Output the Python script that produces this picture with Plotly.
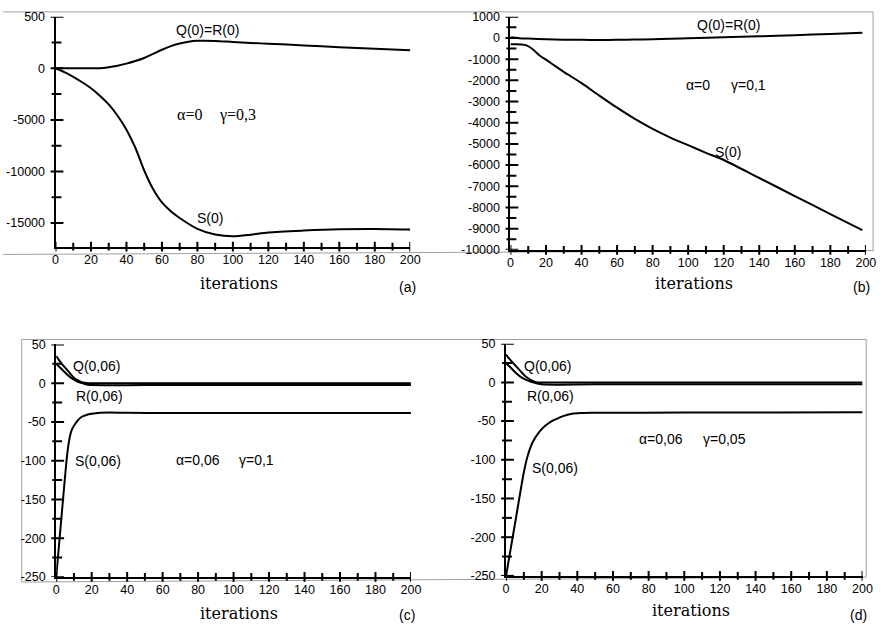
import numpy as np
import plotly.graph_objects as go

W, H = 888, 636

# ---------------- data ----------------
# panel (a)  alpha=0, gamma=0.3
a_it_Q = [0, 5, 10, 15, 20, 25, 30, 35, 40, 45, 50, 55, 60, 65, 70, 75, 80, 90, 100, 110, 120, 140, 160, 180, 200]
a_Q = [0, -3, -5, -6, -4, 0, 10, 25, 45, 70, 100, 140, 180, 215, 240, 258, 266, 265, 255, 246, 238, 222, 205, 190, 175]
a_it_S = [0, 5, 10, 15, 20, 25, 30, 35, 40, 45, 50, 55, 60, 65, 70, 80, 90, 100, 110, 120, 140, 160, 180, 200]
a_S = [0, -380, -830, -1350, -1930, -2650, -3500, -4600, -5950, -7700, -9900, -11700, -13000, -13850, -14500, -15550, -16100, -16270, -16120, -15900, -15720, -15600, -15570, -15620]

# panel (b)  alpha=0, gamma=0.1
b_it_Q = [0, 5, 10, 20, 30, 40, 50, 60, 70, 80, 90, 100, 120, 140, 160, 180, 198]
b_Q = [30, -10, -30, -60, -80, -90, -95, -90, -75, -60, -35, -10, 30, 80, 130, 190, 250]
b_it_S = [0, 3, 6, 9, 12, 15, 17, 20, 25, 30, 40, 50, 60, 70, 80, 90, 100, 110, 120, 140, 160, 180, 198]
b_S = [-300, -300, -310, -350, -500, -720, -860, -1020, -1320, -1600, -2130, -2720, -3290, -3820, -4290, -4700, -5060, -5420, -5760, -6610, -7460, -8310, -9070]

# panel (c)  alpha=0.06, gamma=0.1
c_it_Q = [0, 2, 4, 6, 8, 10, 12, 14, 16, 18, 20, 50, 100, 150, 200]
c_Q = [35, 28.5, 22.5, 17.5, 12, 7, 3.8, 1.5, 0.4, 0, 0, 0, 0, 0, 0]
c_it_R = [0, 2, 4, 6, 8, 10, 12, 14, 16, 18, 20, 50, 100, 150, 200]
c_R = [25, 20.5, 16, 11.5, 7.5, 4.5, 2, 0.5, -1, -2, -2.5, -2.5, -2.5, -2.5, -2.5]
c_it_S = [0, 3, 6, 7, 8, 9, 10, 12, 14, 17, 20, 25, 30, 40, 60, 100, 150, 200]
c_S = [-250, -172, -96, -78, -66, -59, -55, -48.5, -44, -41, -39.5, -38.3, -38, -38.3, -38.5, -38.5, -38.5, -38.5]

# panel (d)  alpha=0.06, gamma=0.05
d_it_Q = [0, 2, 4, 6, 8, 10, 12, 14, 16, 18, 20, 50, 100, 150, 200]
d_Q = [36, 30, 25, 20, 15, 10, 6, 3, 1, 0, 0, 0, 0, 0, 0]
d_it_R = [0, 2, 5, 8, 11, 14, 17, 20, 50, 100, 150, 200]
d_R = [25, 20.5, 13.5, 7.5, 3.5, 0.8, -1, -2.5, -2.5, -2.5, -2.5, -2.5]
d_it_S = [0, 5, 10, 12, 15, 19, 22, 25, 28, 32, 37, 42, 50, 100, 150, 200]
d_S = [-250, -183, -116, -96, -77, -63, -56, -51, -47.5, -43.5, -40.5, -39.5, -39.2, -39, -38.8, -38.5]

x_major = list(range(0, 201, 20))
x_minor = list(range(10, 200, 20))

a_y_major = [500, 0, -5000, -10000, -15000]
a_y_minor = [250, -2500, -7500, -12500]
b_y_major = [1000] + list(range(0, -10001, -1000))
b_y_minor = list(range(500, -10000, -1000))
cd_y_major = [50, 0, -50, -100, -150, -200, -250]
cd_y_minor = [25, -25, -75, -125, -175, -225]


def tr_a(v):
    """panel (a) has a stretched positive half (x10)"""
    v = np.asarray(v, dtype=float)
    return np.where(v > 0, v * 10.0, v)


def fx(px):
    return px / W


def fy(py):
    return 1 - py / H


sans = "Liberation Sans"
serif = "Liberation Serif"

panels = [
    dict(xa="x", ya="y", xl=53.3, xr=413.3, yt=9.9, yb=245.0, yr=[-17275, 5000],
         ymaj=list(tr_a(a_y_major)), ymajt=[str(v) for v in a_y_major], ymin=list(tr_a(a_y_minor))),
    dict(xa="x2", ya="y2", xl=515.0, xr=875.7, yt=10.0, yb=248.3, yr=[-10000, 1000],
         ymaj=b_y_major, ymajt=[str(v) for v in b_y_major], ymin=b_y_minor),
    dict(xa="x3", ya="y3", xl=54.0, xr=414.0, yt=345.0, yb=582.7, yr=[-250, 50],
         ymaj=cd_y_major, ymajt=[str(v) for v in cd_y_major], ymin=cd_y_minor),
    dict(xa="x4", ya="y4", xl=510.5, xr=872.3, yt=344.3, yb=581.7, yr=[-250, 50],
         ymaj=cd_y_major, ymajt=[str(v) for v in cd_y_major], ymin=cd_y_minor),
]

fig = go.Figure()

series = [
    (0, a_it_Q, tr_a(a_Q)), (0, a_it_S, a_S),
    (1, b_it_Q, b_Q), (1, b_it_S, b_S),
    (2, c_it_Q, c_Q), (2, c_it_R, c_R), (2, c_it_S, c_S),
    (3, d_it_Q, d_Q), (3, d_it_R, d_R), (3, d_it_S, d_S),
]
for p, xs, ys in series:
    P = panels[p]
    fig.add_trace(go.Scatter(x=xs, y=list(ys), mode="lines",
                             line=dict(color="black", width=2, shape="spline", smoothing=0.8),
                             xaxis=P["xa"], yaxis=P["ya"], showlegend=False, hoverinfo="skip"))

layout = dict(width=W, height=H, margin=dict(l=0, r=0, t=0, b=0),
              paper_bgcolor="white", plot_bgcolor="white", showlegend=False)

shapes = []
tick_line = dict(color="black", width=2)
for i, P in enumerate(panels):
    sx = "" if i == 0 else str(i + 1)
    layout["xaxis" + sx] = dict(domain=[fx(P["xl"]), fx(P["xr"])], range=[0, 200], anchor=P["ya"],
                                showline=True, linecolor="black", linewidth=2, showgrid=False, zeroline=False,
                                ticks="", tickvals=x_major, ticktext=[str(v) for v in x_major],
                                tickfont=dict(family=sans, size=12.5, color="black"))
    layout["yaxis" + sx] = dict(domain=[fy(P["yb"]), fy(P["yt"])], range=P["yr"], anchor=P["xa"],
                                showline=True, linecolor="black", linewidth=2, showgrid=False, zeroline=False,
                                ticks="outside", ticklen=6, tickcolor="rgba(0,0,0,0)",
                                tickvals=P["ymaj"], ticktext=P["ymajt"],
                                tickfont=dict(family=sans, size=12.5, color="black"))
    # crossing tick marks (x in data, y in paper) and (x in paper, y in data)
    for vals, up, dn in [(x_major, 5, 5), (x_minor, 4, 4)]:
        for v in vals:
            shapes.append(dict(type="line", xref=P["xa"], yref="paper", x0=v, x1=v,
                               y0=fy(P["yb"] + dn), y1=fy(P["yb"] - up), line=tick_line))
    for vals, lft, rgt in [(P["ymaj"], 5, 8), (P["ymin"], 4, 6)]:
        for v in vals:
            shapes.append(dict(type="line", xref="paper", yref=P["ya"], y0=v, y1=v,
                               x0=fx(P["xl"] - lft), x1=fx(P["xl"] + rgt), line=tick_line))

# scanned frame lines
gray = dict(color="#a0a0a0", width=1)
for (x0, y0, x1, y1) in [(0, 5, 883, 5), (883, 5, 883, 250), (0, 253, 883, 249),
                         (19, 340, 876, 340), (19, 340, 19, 588), (19, 588, 876, 583), (876, 340, 876, 583)]:
    shapes.append(dict(type="line", xref="paper", yref="paper", x0=fx(x0), y0=fy(y0), x1=fx(x1), y1=fy(y1),
                       line=gray, layer="below"))
layout["shapes"] = shapes

ann = []


def add(text, px, py, family=sans, size=14):
    ann.append(dict(text=text, x=fx(px), y=fy(py), xref="paper", yref="paper", showarrow=False,
                    xanchor="center", yanchor="middle", font=dict(family=family, size=size, color="black")))


# panel (a)
add("Q(0)=R(0)", 207.5, 24)
add("S(0)", 210, 216)
add("α=0", 189.7, 110, serif, 16)
add("γ=0,3", 237.5, 110, serif, 16)
add("iterations", 240, 283, "DejaVu Serif", 16)
add("(a)", 411, 286)
# panel (b)
add("Q(0)=R(0)", 736.5, 18.3)
add("S(0)", 735.5, 148.3)
add("α=0", 705.7, 80)
add("γ=0,1", 756.5, 80)
add("iterations", 701.5, 283, "DejaVu Serif", 16)
add("(b)", 871.5, 286.7)
# panel (c)
add("Q(0,06)", 95, 366.7)
add("R(0,06)", 98, 397.7)
add("S(0,06)", 96, 464.3)
add("α=0,06", 197.5, 463.3)
add("γ=0,1", 257.5, 463.3)
add("iterations", 240, 620, "DejaVu Serif", 16)
add("(c)", 410.5, 621.7)
# panel (d)
add("Q(0,06)", 553, 366.7)
add("R(0,06)", 555.7, 397.3)
add("S(0,06)", 560.3, 471.7)
add("α=0,06", 668.2, 441.7)
add("γ=0,05", 732, 441.7)
add("iterations", 698, 616.7, "DejaVu Serif", 16)
add("(d)", 868, 621.7)
layout["annotations"] = ann

fig.update_layout(**layout)
fig.write_html("out.html")
